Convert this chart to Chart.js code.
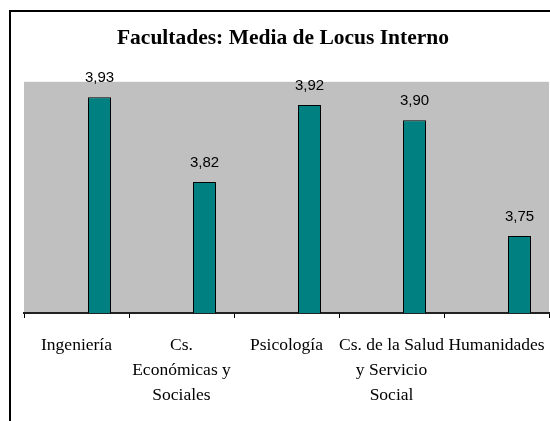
<!DOCTYPE html>
<html>
<head>
<meta charset="utf-8">
<script src="https://cdn.jsdelivr.net/npm/chart.js@4/dist/chart.umd.min.js"></script>
<style>
  html, body { margin: 0; padding: 0; background: #fff; overflow: hidden; }
  #wrap { position: relative; width: 550px; height: 421px; }
  #chart { display: block; }
  #frame { position: absolute; left: 9px; top: 10px; width: 600px; height: 500px;
           border: 2px solid #000; box-sizing: border-box; pointer-events: none; }
</style>
</head>
<body>
<div id="wrap">
  <canvas id="chart" width="550" height="421"></canvas>
  <div id="frame"></div>
</div>
<script>
var facultades = [
  "Ingeniería",
  ["Cs.", "Económicas y", "Sociales"],
  "Psicología",
  ["Cs. de la Salud", "y Servicio", "Social"],
  "Humanidades"
];
var medias = [3.93, 3.82, 3.92, 3.90, 3.75];
var vacio = [null, null, null, null, null];

// plot background + value labels
var fondo = {
  id: 'fondo',
  beforeDraw: function(chart) {
    var a = chart.chartArea, ctx = chart.ctx;
    ctx.save();
    ctx.fillStyle = '#C0C0C0';
    ctx.fillRect(a.left, a.top, a.right - a.left, a.bottom - a.top);
    ctx.restore();
  },
  afterDatasetsDraw: function(chart) {
    var ctx = chart.ctx;
    var meta = chart.getDatasetMeta(1);
    ctx.save();
    ctx.font = '15px "Liberation Sans", Arial, sans-serif';
    ctx.fillStyle = '#000';
    ctx.textAlign = 'center';
    ctx.textBaseline = 'alphabetic';
    meta.data.forEach(function(bar, i) {
      var v = medias[i];
      ctx.fillText(v.toFixed(2).replace('.', ','), bar.x, bar.y - 15);
    });
    ctx.restore();
  }
};

var ctx = document.getElementById("chart");
window.myBar = new Chart(ctx, {
  type: 'bar',
  data: {
    labels: facultades,
    datasets: [{
      data: vacio,
      backgroundColor: '#008080'
    }, {
      data: medias,
      backgroundColor: '#008080',
      borderColor: '#000',
      borderWidth: 1,
      borderSkipped: false
    }]
  },
  options: {
    responsive: false,
    animation: false,
    categoryPercentage: 0.876,
    barPercentage: 0.5,
    layout: { padding: { left: 17, right: 1, top: 0, bottom: 13 } },
    plugins: {
      legend: { display: false },
      tooltip: { enabled: false },
      title: {
        display: true,
        text: 'Facultades: Media de Locus Interno',
        color: '#000',
        font: { family: '"Liberation Serif", "Times New Roman", serif', size: 21.5, weight: 'bold', lineHeight: 1.2 },
        padding: { top: 26, bottom: 30 }
      }
    },
    scales: {
      y: {
        min: 3.65, max: 3.95,
        grid: { display: false },
        border: { display: false },
        ticks: { display: false },
        afterFit: function(s) { s.width = 7; }
      },
      x: {
        grid: { drawOnChartArea: false, drawTicks: true, tickLength: 20, color: '#000', lineWidth: 1,
                tickBorderDash: [4, 100] },
        border: { display: true, color: '#222', width: 2 },
        ticks: {
          color: '#000',
          maxRotation: 0,
          minRotation: 0,
          autoSkip: false,
          padding: 0,
          font: { family: '"Liberation Serif", "Times New Roman", serif', size: 17.5, lineHeight: 1.43 }
        }
      }
    }
  },
  plugins: [fondo]
});
</script>
</body>
</html>
